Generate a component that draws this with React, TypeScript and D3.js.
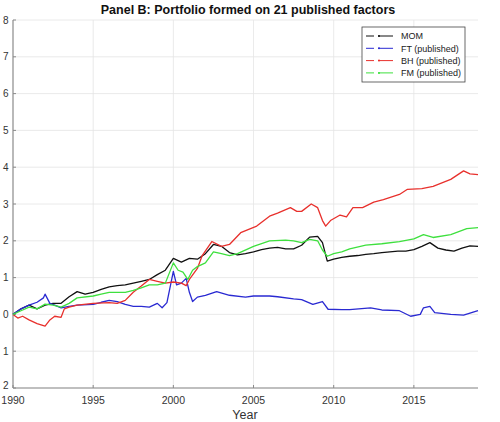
import React from "react";
import * as d3 from "d3";

// Series: [year, cumulative return]
const momSeries: [number, number][] = [
  [1990.0, 0.0], [1990.5, 0.15], [1991.0, 0.25], [1991.5, 0.15], [1992.0, 0.25],
  [1992.5, 0.3], [1993.0, 0.3], [1993.5, 0.48], [1994.0, 0.62], [1994.5, 0.55],
  [1995.0, 0.6], [1995.5, 0.68], [1996.0, 0.75], [1996.5, 0.78], [1997.0, 0.8],
  [1997.5, 0.85], [1998.0, 0.9], [1998.5, 0.95], [1999.0, 1.08], [1999.5, 1.2],
  [2000.0, 1.52], [2000.5, 1.42], [2001.0, 1.52], [2001.5, 1.5], [2002.0, 1.65],
  [2002.5, 1.9], [2003.0, 1.85], [2003.5, 1.68], [2004.0, 1.62], [2004.5, 1.65],
  [2005.0, 1.7], [2005.5, 1.76], [2006.0, 1.8], [2006.5, 1.82], [2007.0, 1.78],
  [2007.5, 1.78], [2008.0, 1.88], [2008.5, 2.1], [2009.0, 2.12], [2009.3, 1.95],
  [2009.6, 1.45], [2010.0, 1.5], [2010.5, 1.55], [2011.0, 1.58], [2011.5, 1.6],
  [2012.0, 1.63], [2012.5, 1.65], [2013.0, 1.68], [2013.5, 1.7], [2014.0, 1.72],
  [2014.5, 1.72], [2015.0, 1.76], [2015.5, 1.85], [2016.0, 1.95], [2016.5, 1.8],
  [2017.0, 1.75], [2017.5, 1.72], [2018.0, 1.8], [2018.5, 1.86], [2019.0, 1.85],
];

const ftSeries: [number, number][] = [
  [1990.0, 0.0], [1990.5, 0.15], [1991.0, 0.25], [1991.5, 0.33], [1991.9, 0.45],
  [1992.0, 0.55], [1992.3, 0.3], [1992.6, 0.25], [1993.0, 0.18], [1993.5, 0.22],
  [1994.0, 0.25], [1995.0, 0.27], [1995.5, 0.33], [1996.0, 0.38], [1996.5, 0.35],
  [1997.0, 0.27], [1997.5, 0.22], [1998.0, 0.22], [1998.5, 0.2], [1999.0, 0.3],
  [1999.3, 0.18], [1999.6, 0.32], [2000.0, 1.17], [2000.2, 0.8], [2000.5, 0.85],
  [2000.8, 0.98], [2001.0, 0.6], [2001.2, 0.35], [2001.5, 0.47], [2002.0, 0.52],
  [2002.7, 0.62], [2003.5, 0.52], [2004.5, 0.47], [2005.0, 0.5], [2006.0, 0.5],
  [2006.5, 0.48], [2007.5, 0.42], [2008.0, 0.4], [2008.7, 0.27], [2009.3, 0.35],
  [2009.65, 0.14], [2010.5, 0.13], [2011.0, 0.13], [2012.3, 0.18], [2013.0, 0.12],
  [2014.1, 0.1], [2014.8, -0.05], [2015.4, 0.0], [2015.6, 0.18], [2016.0, 0.22],
  [2016.3, 0.05], [2017.3, 0.0], [2018.1, -0.02], [2019.0, 0.1],
];

const bhSeries: [number, number][] = [
  [1990.0, 0.0], [1990.3, -0.1], [1990.6, -0.05], [1991.0, -0.15], [1991.5, -0.25],
  [1992.0, -0.32], [1992.3, -0.15], [1992.6, -0.05], [1993.0, -0.08], [1993.2, 0.15],
  [1993.5, 0.2], [1994.0, 0.25], [1995.0, 0.3], [1996.0, 0.32], [1996.5, 0.3],
  [1997.0, 0.38], [1997.5, 0.6], [1998.0, 0.77], [1998.5, 0.95], [1999.0, 0.9],
  [1999.5, 0.85], [2000.0, 0.88], [2000.5, 0.85], [2000.8, 0.78], [2001.0, 0.95],
  [2001.5, 1.25], [2001.8, 1.6], [2002.4, 1.98], [2003.0, 1.85], [2003.5, 1.9],
  [2004.2, 2.22], [2005.2, 2.4], [2006.0, 2.67], [2006.5, 2.75], [2007.3, 2.9],
  [2007.7, 2.8], [2008.0, 2.8], [2008.6, 3.0], [2009.0, 2.9], [2009.3, 2.55],
  [2009.5, 2.4], [2009.8, 2.55], [2010.4, 2.7], [2010.8, 2.65], [2011.2, 2.9],
  [2011.8, 2.9], [2012.5, 3.05], [2013.1, 3.12], [2014.1, 3.26], [2014.6, 3.4],
  [2015.5, 3.42], [2016.2, 3.48], [2017.3, 3.67], [2018.1, 3.9], [2018.5, 3.82],
  [2019.0, 3.8],
];

const fmSeries: [number, number][] = [
  [1990.0, 0.0], [1990.5, 0.1], [1991.0, 0.2], [1991.5, 0.15], [1992.0, 0.28],
  [1992.5, 0.25], [1993.0, 0.2], [1993.5, 0.3], [1994.0, 0.45], [1995.0, 0.5],
  [1995.5, 0.55], [1996.0, 0.6], [1997.0, 0.6], [1997.5, 0.65], [1998.0, 0.72],
  [1998.5, 0.8], [1999.0, 0.8], [1999.5, 0.85], [2000.0, 1.4], [2000.3, 1.2],
  [2000.6, 1.15], [2000.9, 0.95], [2001.2, 1.2], [2001.5, 1.3], [2002.0, 1.4],
  [2002.5, 1.7], [2003.0, 1.65], [2003.5, 1.6], [2004.0, 1.65], [2005.0, 1.85],
  [2006.0, 2.0], [2007.0, 2.02], [2007.5, 2.0], [2008.0, 1.95], [2008.5, 2.04],
  [2009.0, 2.0], [2009.3, 1.75], [2009.6, 1.58], [2010.0, 1.65], [2010.5, 1.7],
  [2011.0, 1.78], [2012.0, 1.88], [2013.0, 1.92], [2014.1, 1.98], [2015.0, 2.05],
  [2015.6, 2.17], [2016.2, 2.09], [2017.3, 2.17], [2018.3, 2.33], [2019.0, 2.36],
];

const seriesNames = ["MOM", "FT (published)", "BH (published)", "FM (published)"];
const seriesColors = ["#111111", "#2a2ad2", "#e8302c", "#3ee03e"];
const allSeries = [momSeries, ftSeries, bhSeries, fmSeries];

const xTicks = [1990, 1995, 2000, 2005, 2010, 2015];
const yTicks = [-2, -1, 0, 1, 2, 3, 4, 5, 6, 7, 8];

const W = 500;
const H = 422;
const margin = { top: 20, right: 22, bottom: 34, left: 13 };

const App: React.FC = () => {
  const x = d3.scaleLinear().domain([1990, 2019]).range([margin.left, W - margin.right]);
  const y = d3.scaleLinear().domain([-2, 8]).range([H - margin.bottom, margin.top]);

  const line = d3
    .line<[number, number]>()
    .x((d) => x(d[0]))
    .y((d) => y(d[1]));

  const font = "'Liberation Sans', Arial, Helvetica, sans-serif";
  const legendX = 362;
  const legendY = 27;

  return (
    <svg
      width={W}
      height={H}
      style={{ position: "absolute", left: 0, top: 0, fontFamily: font }}
    >
      <rect width={W} height={H} fill="#fff" />
      {/* grid */}
      {yTicks.map((t) => (
        <line key={"gy" + t} x1={x(1990)} x2={x(2019)} y1={y(t)} y2={y(t)} stroke="#e4e4e4" strokeWidth={0.8} />
      ))}
      {xTicks.slice(1).map((t) => (
        <line key={"gx" + t} x1={x(t)} x2={x(t)} y1={y(-2)} y2={y(8)} stroke="#e4e4e4" strokeWidth={0.8} />
      ))}
      {/* axes */}
      <line x1={x(1990)} x2={x(1990)} y1={y(-2)} y2={y(8)} stroke="#8a8a8a" strokeWidth={1.2} />
      <line x1={x(1990)} x2={x(2019)} y1={y(-2)} y2={y(-2)} stroke="#8a8a8a" strokeWidth={1.2} />
      {yTicks.map((t) => (
        <g key={"ty" + t}>
          <line x1={x(1990)} x2={x(1990) + 3} y1={y(t)} y2={y(t)} stroke="#8a8a8a" />
          <text x={3} y={y(t) + (t === -2 ? 0.5 : 3.5)} fontSize={10} fill="#333">
            {Math.abs(t)}
          </text>
        </g>
      ))}
      {xTicks.map((t) => (
        <g key={"tx" + t}>
          <line x1={x(t)} x2={x(t)} y1={y(-2)} y2={y(-2) - 3} stroke="#8a8a8a" />
          <text x={x(t)} y={y(-2) + 15.5} fontSize={10.5} textAnchor="middle" fill="#333">
            {t}
          </text>
        </g>
      ))}
      <text x={245} y={H - 3} fontSize={12.5} textAnchor="middle" fill="#333">
        Year
      </text>
      <text x={248} y={14} fontSize={12.5} fontWeight="bold" textAnchor="middle" fill="#111">
        Panel B: Portfolio formed on 21 published factors
      </text>
      {/* series */}
      {allSeries.map((s, i) => (
        <path key={"s" + i} d={line(s) || ""} fill="none" stroke={seriesColors[i]} strokeWidth={1.3} strokeLinejoin="round" />
      ))}
      {/* legend */}
      <rect x={legendX} y={legendY} width={103} height={55} fill="#fff" stroke="#444" strokeWidth={0.8} />
      {seriesNames.map((n, i) => {
        const ly = legendY + 9 + i * 12.3;
        return (
          <g key={"l" + i}>
            <line x1={legendX + 4} x2={legendX + 12} y1={ly} y2={ly} stroke={seriesColors[i]} strokeWidth={1} />
            <line x1={legendX + 16} x2={legendX + 31} y1={ly} y2={ly} stroke={seriesColors[i]} strokeWidth={1} />
            <circle cx={legendX + 17} cy={ly} r={1} fill={seriesColors[i]} />
            <text x={legendX + 39} y={ly + 3.3} fontSize={9} fill="#222">
              {n}
            </text>
          </g>
        );
      })}
    </svg>
  );
};

export default App;
